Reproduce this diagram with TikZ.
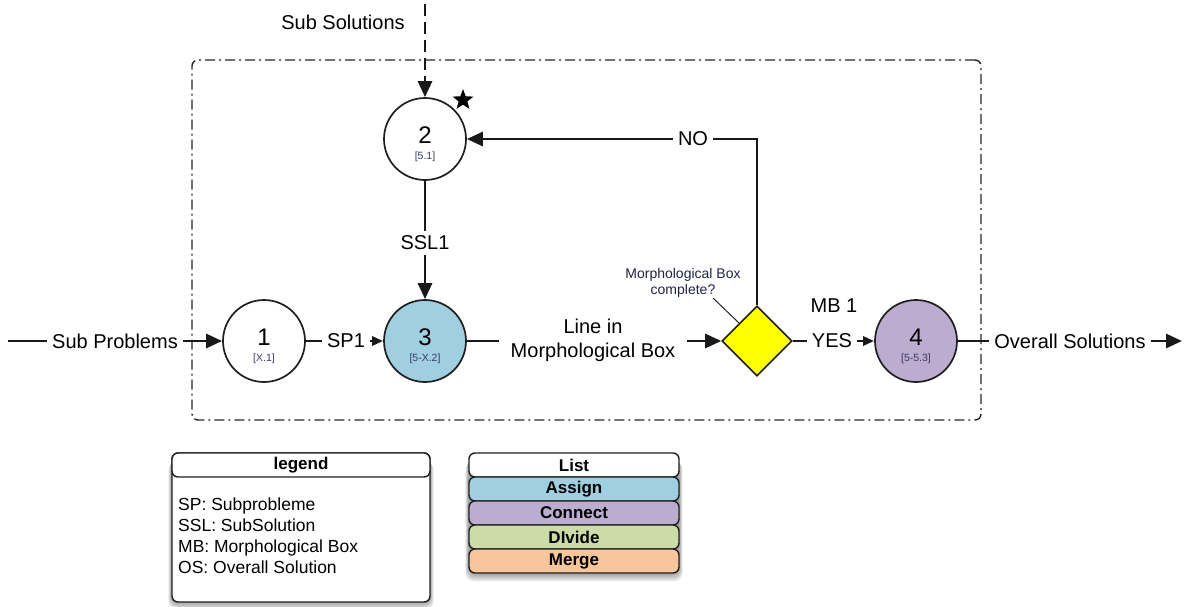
\documentclass[tikz,border=0pt]{standalone}
\usepackage{fontspec}
\setmainfont{Liberation Sans}
\usetikzlibrary{arrows.meta,shapes.geometric,calc}
\definecolor{assignc}{HTML}{9FCFE0}
\definecolor{connectc}{HTML}{BBACD0}
\definecolor{dividec}{HTML}{CBDCA8}
\definecolor{mergec}{HTML}{F8C69A}
\definecolor{subc}{HTML}{3A3A66}
\definecolor{calloutc}{HTML}{222244}
\definecolor{diac}{HTML}{FFFF00}
\begin{document}
\begin{tikzpicture}[x=1pt,y=-1pt,
  flow/.style={line width=2.9pt, draw=black!90},
  arr/.style={flow, -{Triangle[length=16pt,width=14pt]}},
  sarr/.style={flow, -{Triangle[length=11pt,width=9pt]}},
  lbl/.style={font=\fontsize{20}{24}\selectfont, inner sep=5pt, align=center},
  circ/.style={circle, draw=black!88, line width=1.7pt, minimum size=82pt, inner sep=0pt},
  num/.style={font=\fontsize{24}{24}\selectfont, inner sep=0pt},
  sublbl/.style={font=\fontsize{10.5}{11}\selectfont, text=subc, inner sep=0pt},
  frame/.style={draw=black!85, line width=1.4pt, dash pattern=on 10pt off 4pt on 2pt off 4pt, rounded corners=6pt},
  lrow/.style={draw=black!88, line width=1.4pt, rounded corners=6pt, minimum width=210pt, minimum height=24pt, inner sep=0pt, font=\fontsize{17}{18}\selectfont\bfseries},
  shad/.style={fill=black, opacity=0.07, rounded corners=8pt}
]
\useasboundingbox (0,0) rectangle (1184,606);

% frame
\node[frame, minimum width=789pt, minimum height=360pt, inner sep=0pt] (frm) at (586.5,240) {};

% circles
\node[circ, fill=white] (c1) at (264,341) {};
\node[circ, fill=white] (c2) at (425,139) {};
\node[circ, fill=assignc] (c3) at (425,341) {};
\node[circ, fill=connectc] (c4) at (916,341) {};
\node[num] (n1) at (264,337) {1};
\node[sublbl] (s1) at (264,359) {[X.1]};
\node[num] (n2) at (425,135) {2};
\node[sublbl] (s2) at (425,157) {[5.1]};
\node[num] (n3) at (425,337) {3};
\node[sublbl] (s3) at (425,359) {[5-X.2]};
\node[num] (n4) at (916,337) {4};
\node[sublbl] (s4) at (916,359) {[5-5.3]};

% star
\node[star, star points=5, star point ratio=2.4, fill=black, minimum size=22pt, inner sep=0pt] (star) at (463,100) {};

% decision diamond
\node[diamond, draw=black!88, line width=1.6pt, fill=diac, minimum width=70pt, minimum height=70pt, inner sep=0pt] (dia) at (757,341) {};

% labels
\node[lbl] (subsol) at (343,22) {Sub Solutions};
\node[lbl] (subprob) at (115,341) {Sub Problems};
\node[lbl] (sp1) at (346,341) {SP1};
\node[lbl, inner xsep=12pt] (linein) at (593,340) {Line in\\Morphological Box};
\node[lbl] (yes) at (832,341) {YES};
\node[lbl] (mb1) at (834,306) {MB 1};
\node[lbl] (overall) at (1070,341) {Overall Solutions};
\node[lbl] (no) at (693,139) {NO};
\node[lbl] (ssl) at (425,243) {SSL1};
\node[font=\fontsize{14}{16}\selectfont, align=center, text=calloutc, inner sep=0pt] (mbq) at (683,283) {Morphological Box\\complete?};

% connectors
\coordinate (spstart) at (8,341);
\coordinate (osend) at (1182,341);
\coordinate (dtop) at (425,4);
\coordinate (mbqtip) at (713,298);

\draw[arr, dash pattern=on 12pt off 6pt] (dtop) -- (c2.north);
\draw[flow] (spstart) -- (subprob);
\draw[arr] (subprob) -- (c1);
\draw[flow] (c1) -- (sp1);
\draw[sarr] (sp1) -- (c3);
\draw[flow] (c3) -- (linein.west |- c3);
\draw[arr] (linein.east |- dia) -- (dia);
\draw[flow] (dia) -- (yes);
\draw[sarr] (yes) -- (c4);
\draw[flow] (c4) -- (overall);
\draw[arr] (overall) -- (osend);
\draw[flow] (dia.north) |- (no);
\draw[arr] (no) -- (c2);
\draw[flow] (c2) -- (ssl);
\draw[arr] (ssl) -- (c3);
\draw[line width=1pt, black!85] (mbqtip) -- ($(dia.west)!0.5!(dia.north)$);

% legend box
\foreach \s in {1,...,6} {
  \fill[shad] (172-\s*0.6, 456+\s) rectangle (430+\s*0.6, 602+\s*1.2);
}
\node[draw=black!88, line width=1.4pt, rounded corners=6pt, fill=white, minimum width=258pt, minimum height=149pt, inner sep=0pt] (legend) at (301,527.5) {};
\node[draw=black!88, line width=1.4pt, rounded corners=6pt, fill=white, minimum width=258pt, minimum height=24pt, inner sep=0pt, font=\fontsize{17}{18}\selectfont\bfseries] (ltitle) at (301,465) {legend};
\node[anchor=north west, align=left, font=\fontsize{17.5}{21}\selectfont, inner sep=0pt] (ltext) at (178,498) {SP: Subprobleme\\SSL: SubSolution\\MB: Morphological Box\\OS: Overall Solution};

% list box
\foreach \s in {1,...,6} {
  \fill[shad] (469-\s*0.6, 456+\s) rectangle (679+\s*0.6, 573+\s*1.4);
}
\node[lrow, fill=white] (list) at (574,465) {List};
\node[lrow, fill=assignc] (assign) at (574,489) {Assign};
\node[lrow, fill=connectc] (connect) at (574,513) {Connect};
\node[lrow, fill=dividec] (divide) at (574,537) {DIvide};
\node[lrow, fill=mergec] (merge) at (574,561) {Merge};
\end{tikzpicture}
\end{document}
